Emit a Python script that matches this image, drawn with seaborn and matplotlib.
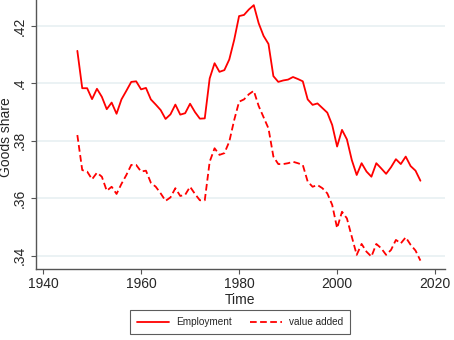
import numpy as np
import pandas as pd
import matplotlib
matplotlib.use("Agg")
import matplotlib.pyplot as plt
import seaborn as sns

years = list(range(1947, 2018))
employment = [0.4113, 0.3983, 0.3983, 0.3945, 0.3981, 0.3953, 0.3910, 0.3933, 0.3894, 0.3944,
              0.3974, 0.4005, 0.4007, 0.3979, 0.3984, 0.3944, 0.3926, 0.3907, 0.3876, 0.3892,
              0.3926, 0.3891, 0.3896, 0.3929, 0.3900, 0.3877, 0.3878, 0.4017, 0.4070, 0.4040,
              0.4046, 0.4083, 0.4151, 0.4234, 0.4238, 0.4257, 0.4272, 0.4209, 0.4165, 0.4137,
              0.4025, 0.4005, 0.4010, 0.4013, 0.4022, 0.4015, 0.4007, 0.3944, 0.3925, 0.3930,
              0.3914, 0.3898, 0.3855, 0.3780, 0.3838, 0.3805, 0.3733, 0.3681, 0.3722, 0.3693,
              0.3675, 0.3722, 0.3704, 0.3685, 0.3708, 0.3736, 0.3719, 0.3745, 0.3712, 0.3696,
              0.3661]
value_added = [0.3820, 0.3698, 0.3693, 0.3666, 0.3689, 0.3675, 0.3626, 0.3640, 0.3615, 0.3650,
               0.3681, 0.3716, 0.3716, 0.3693, 0.3696, 0.3654, 0.3640, 0.3617, 0.3591, 0.3603,
               0.3635, 0.3608, 0.3612, 0.3640, 0.3615, 0.3593, 0.3593, 0.3727, 0.3774, 0.3751,
               0.3757, 0.3797, 0.3872, 0.3936, 0.3944, 0.3962, 0.3974, 0.3921, 0.3882, 0.3843,
               0.3745, 0.3719, 0.3719, 0.3722, 0.3727, 0.3722, 0.3716, 0.3658, 0.3640, 0.3646,
               0.3635, 0.3617, 0.3577, 0.3496, 0.3553, 0.3530, 0.3466, 0.3403, 0.3441, 0.3414,
               0.3397, 0.3441, 0.3426, 0.3403, 0.3420, 0.3455, 0.3443, 0.3464, 0.3438, 0.3418,
               0.3383]
series_names = ["Employment", "value added"]
x_ticks = [1940, 1960, 1980, 2000, 2020]
y_ticks = [0.34, 0.36, 0.38, 0.40, 0.42]
y_tick_labels = [".34", ".36", ".38", ".4", ".42"]

df = pd.DataFrame({
    "Time": years * 2,
    "Goods share": employment + value_added,
    "series": [series_names[0]] * len(years) + [series_names[1]] * len(years),
})

sns.set_style("white")
plt.rcParams["font.family"] = ["Liberation Sans", "DejaVu Sans"]

fig = plt.figure(figsize=(4.54, 3.40), dpi=100)
ax = fig.add_axes([0.0786, 0.209, 0.9014, 0.791])

sns.lineplot(data=df, x="Time", y="Goods share", hue="series", style="series",
             palette=["#ff0000", "#ff0000"],
             dashes={series_names[0]: "", series_names[1]: (3.7, 1.9)},
             linewidth=1.3, ax=ax, legend=True)

ax.set_xlim(1938.5, 2022)
ax.set_ylim(0.3354, 0.429)
ax.set_xticks(x_ticks)
ax.set_xticklabels([str(t) for t in x_ticks], fontsize=10)
ax.set_yticks(y_ticks)
ax.set_yticklabels(y_tick_labels, fontsize=10, rotation=90, va="center")
ax.grid(axis="y", color="#e8f0f2", linewidth=1.2)
ax.grid(axis="x", visible=False)
for s in ["top", "right"]:
    ax.spines[s].set_visible(False)
for s in ["left", "bottom"]:
    ax.spines[s].set_color("#555555")
    ax.spines[s].set_linewidth(1.0)
ax.tick_params(axis="both", which="major", length=3.6, width=0.8, color="#555555",
               bottom=True, left=True, pad=2.5)
ax.set_xlabel("Time", fontsize=10, labelpad=1)
ax.set_ylabel("Goods share", fontsize=10)
ax.yaxis.set_label_coords(-0.055, 0.49)

handles, labels = ax.get_legend_handles_labels()
ax.get_legend().remove()
leg = fig.legend(handles, labels, loc="center", bbox_to_anchor=(0.529, 0.052),
                 ncol=2, fontsize=7.2, frameon=True, fancybox=False,
                 edgecolor="#333333", handlelength=3.2, columnspacing=1.8,
                 borderpad=0.7, handletextpad=0.7)
leg.get_frame().set_linewidth(0.8)

fig.savefig("out.png", dpi=100)
